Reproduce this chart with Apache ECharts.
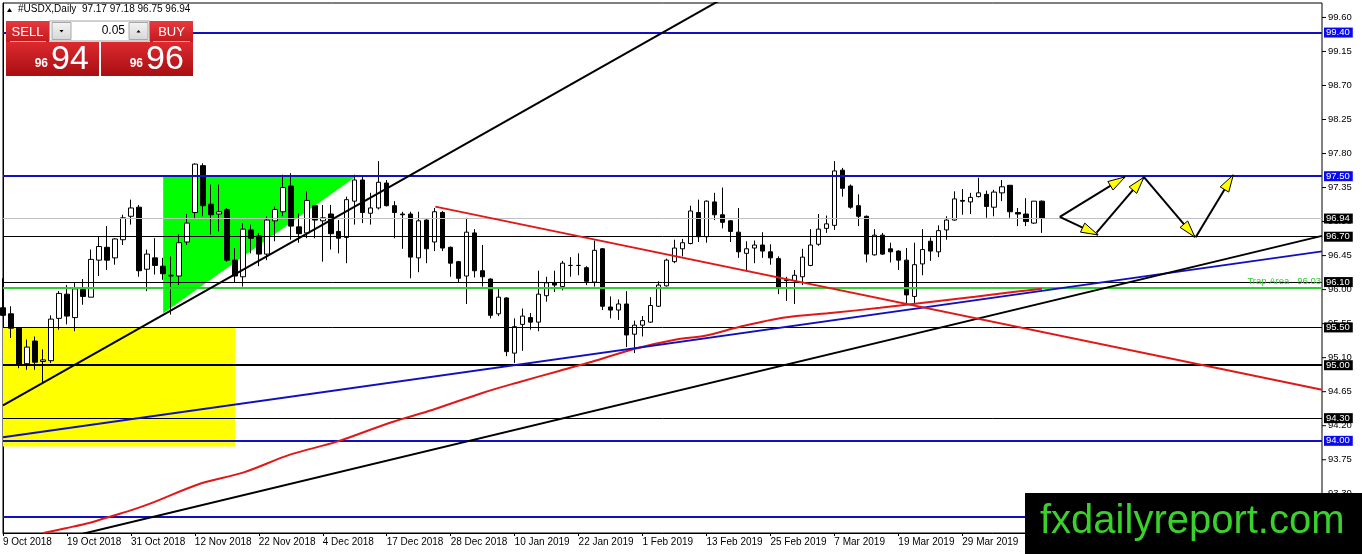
<!DOCTYPE html>
<html><head><meta charset="utf-8">
<script src="https://cdn.jsdelivr.net/npm/echarts@6/dist/echarts.min.js"></script>
<style>html,body{margin:0;padding:0;background:#fff}#c{width:1362px;height:554px}</style>
</head><body><div id="c"></div>
<script>
// ---------- data ----------
const tickLabels = ['9 Oct 2018','19 Oct 2018','31 Oct 2018','12 Nov 2018','22 Nov 2018','4 Dec 2018','17 Dec 2018','28 Dec 2018','10 Jan 2019','22 Jan 2019','1 Feb 2019','13 Feb 2019','25 Feb 2019','7 Mar 2019','19 Mar 2019','29 Mar 2019'];
const priceTicks = [93.30,93.75,94.20,94.65,95.10,95.55,96.00,96.45,96.90,97.35,97.80,98.25,98.70,99.15,99.60];
const opens = [95.76,95.68,95.49,95.02,95.32,95.05,95.06,95.62,95.94,95.63,96.00,95.90,96.39,96.56,96.42,96.66,96.97,97.09,96.27,96.42,
96.31,96.19,96.18,96.63,97.02,97.64,97.13,97.00,97.06,96.39,96.17,96.79,96.71,96.47,96.91,97.03,97.37,96.83,96.75,97.11,
96.91,97.00,96.77,96.69,97.17,97.45,97.01,97.08,97.41,97.11,97.00,97.00,96.42,96.92,96.63,97.02,96.56,96.37,96.18,96.75,
96.25,96.14,95.68,95.89,95.16,95.54,95.63,95.57,95.92,96.09,96.04,96.32,96.32,96.29,96.10,96.54,95.77,95.73,95.81,95.41,
95.53,95.57,95.78,96.05,96.37,96.54,96.61,97.02,96.70,97.16,96.99,96.91,96.76,96.48,96.55,96.59,96.50,96.41,96.13,96.12,
96.17,96.32,96.60,96.81,96.85,97.58,97.37,97.11,96.97,96.46,96.72,96.54,96.51,96.39,95.91,96.34,96.64,96.50,96.79,96.92,
97.18,97.16,97.23,97.26,97.09,97.28,97.38,97.02,97.00,96.88,97.17];
const highs = [96.15,95.78,95.50,95.34,95.38,95.21,95.66,95.98,96.06,96.09,96.14,96.53,96.70,96.84,96.68,96.99,97.19,97.12,96.53,96.68,
96.42,96.44,96.73,97.00,97.67,97.67,97.39,97.39,97.08,96.55,96.88,96.86,96.75,96.97,97.10,97.52,97.54,97.01,97.30,97.12,
97.12,97.12,96.92,97.23,97.52,97.50,97.28,97.70,97.45,97.17,97.03,97.03,97.03,96.93,97.08,97.04,96.57,96.38,96.95,96.80,
96.59,96.15,96.01,95.90,95.62,95.75,95.69,96.25,96.17,96.25,96.38,96.43,96.48,96.31,96.65,96.55,95.91,95.87,95.98,95.59,
95.65,95.90,96.11,96.41,96.66,96.67,97.11,97.19,97.18,97.28,97.35,96.92,97.08,96.64,96.65,96.76,96.60,96.44,96.17,96.26,
96.54,96.80,97.00,96.98,97.70,97.61,97.39,97.26,96.98,96.80,96.75,96.62,96.52,96.55,96.62,96.80,96.69,96.85,96.97,97.30,
97.33,97.28,97.48,97.31,97.32,97.45,97.38,97.08,97.21,97.17,97.18];
const lows = [95.65,95.36,94.96,94.94,94.94,94.77,95.03,95.47,95.54,95.45,95.80,95.90,96.18,96.26,96.33,96.59,96.86,96.17,95.98,96.20,
96.13,95.67,96.06,96.59,96.95,96.97,96.73,96.77,96.37,96.09,96.04,96.48,96.31,96.39,96.64,96.97,96.66,96.62,96.68,96.68,
96.37,96.53,96.48,96.35,96.86,96.88,96.86,97.06,97.10,96.68,96.54,96.15,96.23,96.35,96.51,96.51,96.17,96.10,95.81,96.16,
96.04,95.62,95.65,95.12,95.03,95.19,95.47,95.45,95.84,95.97,95.99,96.17,96.19,96.06,96.04,95.73,95.62,95.60,95.24,95.16,
95.38,95.56,95.77,96.04,96.35,96.44,96.60,96.63,96.62,96.92,96.81,96.63,96.42,96.26,96.35,96.42,96.33,95.94,95.85,95.81,
96.06,96.31,96.58,96.75,96.79,97.23,97.07,96.84,96.36,96.45,96.46,96.36,96.26,95.81,95.80,96.19,96.38,96.43,96.66,96.91,
96.99,97.00,97.22,96.95,96.97,97.17,96.95,96.84,96.84,96.87,96.75];
const closes = [95.66,95.49,95.01,95.24,95.04,95.07,95.61,95.95,95.65,96.01,95.91,96.40,96.57,96.39,96.67,96.95,97.08,96.25,96.47,96.32,
96.21,96.18,96.62,96.88,97.66,97.11,96.99,97.03,96.39,96.18,96.80,96.68,96.47,96.92,97.06,97.35,96.84,96.74,97.18,96.92,
96.95,96.74,96.68,97.19,97.45,97.02,97.08,97.42,97.11,97.02,96.99,96.43,96.91,96.54,97.03,96.55,96.35,96.15,96.76,96.25,
96.17,95.66,95.90,95.18,95.51,95.65,95.57,95.94,96.09,96.06,96.35,96.32,96.32,96.11,96.52,95.78,95.73,95.81,95.40,95.53,
95.59,95.79,96.06,96.39,96.55,96.62,97.04,96.70,97.17,96.99,96.89,96.77,96.50,96.54,96.59,96.51,96.42,96.03,96.12,96.19,
96.43,96.59,96.80,96.87,97.57,97.34,97.09,96.97,96.47,96.72,96.47,96.50,96.39,95.93,96.33,96.53,96.51,96.78,96.92,97.20,
97.17,97.22,97.28,97.10,97.29,97.36,97.03,97.00,96.90,97.17,96.94];
const slotCount = 166;                      // bars + empty space to the right
// moving average (read at sample points: bar index, price)
const maBars   = [5.04,7.97,10.88,13.76,16.26,18.39,24.64,30.02,35.90,41.78,48.41,53.79,60.05,64.30,69.68,73.68,79.06,84.06,87.82,92.19,97.57,103.83,109.71,114.09,121.59,126.6,129.97];
const maPrices = [92.781,92.847,92.917,93.010,93.090,93.169,93.433,93.579,93.817,93.989,94.240,94.412,94.637,94.769,94.928,95.046,95.218,95.337,95.390,95.508,95.627,95.693,95.759,95.812,95.905,95.971,96.011];
// trend lines [bar, price]
const steepTrend   = [[0,94.470],[89.5,99.817]];
const longTrend    = [[9,92.746],[165,96.711]];
const blueTrend    = [[0,94.047],[165,96.506]];
const redDownTrend = [[54.08,97.098],[165,94.675]];
// zones
const yellowBox     = [[0,95.50],[29.02,95.50],[29.02,93.926],[0,93.926]];
const greenTriangle = [[20.04,97.50],[20.04,95.689],[44.2,97.50]];
// projected arrows [bar0, price0, bar1, price1]
const arrowSegments = [[132.2,96.962,140.35,97.491],[132.2,96.962,136.98,96.724],[136.8,96.754,142.73,97.487],[142.73,97.487,149.1,96.694],[149.2,96.694,153.9,97.517]];
// horizontal levels
const blueLevels  = [99.40, 97.50, 94.00, 93.00];
const blackLevels = [96.70, 96.10, 95.50, 94.30];
const heavyLevels = [95.00];
const bidPrice    = 96.94;
const trapLevel   = 96.03;
const trapText    = 'Trap Area   96.03';
const headerText  = '#USDX,Daily  97.17 97.18 96.75 96.94';
const sellPrice = ['96','94'], buyPrice = ['96','96'], lotSize = '0.05';

// ---------- chart ----------
const FONT = 'Liberation Sans, Arial, sans-serif';
const BLUE = '#1010c0', BLUEBOX = '#0a0af0', RED = '#e01818';
const chart = echarts.init(document.getElementById('c'), null, {renderer:'canvas'});
const slots = Array.from({length: slotCount}, (_, i) => String(i));

function levelItem(v, color, width, boxColor) {
  return { yAxis: v, lineStyle: {color, width, type:'solid'},
    label: { show: true, position: 'end', distance: 2, formatter: v.toFixed(2), color: '#fff',
      backgroundColor: boxColor, fontFamily: FONT, fontSize: 9.5, lineHeight: 10, padding: [0,3,0,2] } };
}
const markData = [];
blueLevels.forEach(v => markData.push(levelItem(v, BLUE, 2, BLUEBOX)));
blackLevels.forEach(v => markData.push(levelItem(v, '#000', 1, '#000')));
heavyLevels.forEach(v => markData.push(levelItem(v, '#000', 2, '#000')));
markData.push(levelItem(bidPrice, '#c0c0c0', 1, '#000'));
markData.push({ yAxis: trapLevel, lineStyle: {color:'#32cd32', width:2, type:'solid'},
  label: { show: true, position: 'insideEndTop', distance: 1, formatter: trapText, color: '#32cd32', fontFamily: FONT, fontSize: 9.5 } });

function trendSeries(pts, color, smooth) {
  return { type:'line', xAxisIndex:1, data: pts, symbol:'none', silent:true, z:4, clip:true, smooth: smooth || false,
    lineStyle:{color, width:2}, animation:false };
}
const zones = [{pts: yellowBox, fill:'#ffff00'}, {pts: greenTriangle, fill:'#00ff00'}];

const option = {
  animation: false,
  grid: { left: 3, right: 40, top: 3, bottom: 21, show: true, borderColor: '#000', borderWidth: 1 },
  xAxis: [
    { type:'category', data: slots, boundaryGap:false,
      axisLine:{lineStyle:{color:'#000', width:1}},
      axisTick:{show:true, interval:7, length:3, lineStyle:{color:'#000'}},
      axisLabel:{interval:7, align:'left', margin:4, color:'#000', fontFamily:FONT, fontSize:10,
        formatter:(v, i) => (i % 8 === 0 && tickLabels[i/8]) ? tickLabels[i/8] : ''},
      splitLine:{show:false} },
    { type:'value', min:0, max:slotCount-1, show:false }
  ],
  yAxis: { type:'value', position:'right', min:92.781, max:99.791, scale:true,
    axisLine:{show:true, lineStyle:{color:'#000'}},
    axisTick:{show:false},
    axisLabel:{customValues: priceTicks, formatter: v => v.toFixed(2), color:'#000', fontFamily:FONT, fontSize:9.5, margin:6},
    splitLine:{show:false} },
  series: [
    { type:'custom', xAxisIndex:1, z:1, silent:true,
      data: zones.map(z => z.pts[0]), encode:{x:0, y:1},
      renderItem: (params, api) => {
        const z = zones[params.dataIndex];
        return { type:'polygon', shape:{points: z.pts.map(p => api.coord(p))}, style:{fill: z.fill} };
      } },
    // price-axis tick marks on the right edge
    { type:'custom', xAxisIndex:1, z:1, silent:true, clip:false,
      data: priceTicks.map(v => [slotCount-1, v]), encode:{x:0, y:1},
      renderItem: (params, api) => {
        const p = api.coord([api.value(0), api.value(1)]);
        return { type:'line', shape:{x1:p[0], y1:p[1], x2:p[0]+4, y2:p[1]}, style:{stroke:'#000', lineWidth:1} };
      } },
    { type:'candlestick', xAxisIndex:0, z:2, barWidth:5, silent:true,
      data: opens.map((o, i) => [o, closes[i], lows[i], highs[i]]),
      itemStyle:{color:'#fff', color0:'#000', borderColor:'#000', borderColor0:'#000', borderWidth:1},
      markLine:{ silent:true, symbol:['none','none'], z:3, animation:false, data: markData } },
    trendSeries(maBars.map((b, i) => [b, maPrices[i]]), RED, 0.3),
    trendSeries(blueTrend, BLUE),
    trendSeries(longTrend, '#000'),
    trendSeries(steepTrend, '#000'),
    trendSeries(redDownTrend, RED),
    { type:'custom', xAxisIndex:1, z:6, silent:true,
      data: arrowSegments, encode:{x:[0,2], y:[1,3]},
      renderItem: (params, api) => {
        const p0 = api.coord([api.value(0), api.value(1)]);
        const p1 = api.coord([api.value(2), api.value(3)]);
        const dx = p1[0]-p0[0], dy = p1[1]-p0[1], len = Math.hypot(dx, dy);
        const ux = dx/len, uy = dy/len, L = 17, W = 5;
        const bx = p1[0]-ux*L, by = p1[1]-uy*L;
        return { type:'group', children:[
          { type:'line', shape:{x1:p0[0], y1:p0[1], x2:p1[0], y2:p1[1]}, style:{stroke:'#000', lineWidth:2} },
          { type:'polygon', shape:{points:[[p1[0],p1[1]],[bx-uy*W, by+ux*W],[bx+uy*W, by-ux*W]]},
            style:{fill:'#ffff00', stroke:'#000', lineWidth:1} }
        ]};
      } }
  ],
  graphic: [
    // header
    { type:'polygon', z:100, shape:{points:[[7,12],[12,12],[9.5,8]]}, style:{fill:'#000'} },
    { type:'text', z:100, left:18, top:4, style:{text: headerText, fill:'#000', font:'10px '+FONT} },
    // trading panel
    { type:'rect', z:100, shape:{x:6, y:21, width:43, height:21}, style:{fill: new echarts.graphic.LinearGradient(0,0,0,1,[{offset:0,color:'#e8383d'},{offset:1,color:'#c01a1f'}])} },
    { type:'rect', z:100, shape:{x:150, y:21, width:43, height:21}, style:{fill: new echarts.graphic.LinearGradient(0,0,0,1,[{offset:0,color:'#e8383d'},{offset:1,color:'#c01a1f'}])} },
    { type:'rect', z:100, shape:{x:49.5, y:21, width:100, height:20}, style:{fill:'#fff', stroke:'#a0a0a0', lineWidth:1} },
    { type:'rect', z:101, shape:{x:52, y:22.5, width:19, height:17}, style:{fill: new echarts.graphic.LinearGradient(0,0,0,1,[{offset:0,color:'#f4f4f4'},{offset:1,color:'#d6d6d6'}]), stroke:'#a8a8a8'} },
    { type:'rect', z:101, shape:{x:129, y:22.5, width:19, height:17}, style:{fill: new echarts.graphic.LinearGradient(0,0,0,1,[{offset:0,color:'#f4f4f4'},{offset:1,color:'#d6d6d6'}]), stroke:'#a8a8a8'} },
    { type:'polygon', z:102, shape:{points:[[59.5,30],[63.5,30],[61.5,32.5]]}, style:{fill:'#000'} },
    { type:'polygon', z:102, shape:{points:[[136.5,32.5],[140.5,32.5],[138.5,30]]}, style:{fill:'#000'} },
    { type:'text', z:102, x:125, y:31, style:{text: lotSize, fill:'#000', font:'12px '+FONT, align:'right', verticalAlign:'middle'} },
    { type:'text', z:102, x:27.5, y:32, style:{text:'SELL', fill:'#fff', font:'13px '+FONT, align:'center', verticalAlign:'middle'} },
    { type:'text', z:102, x:171.5, y:32, style:{text:'BUY', fill:'#fff', font:'13px '+FONT, align:'center', verticalAlign:'middle'} },
    { type:'line', z:102, shape:{x1:10, y1:41.5, x2:46, y2:41.5}, style:{stroke:'rgba(255,200,200,0.8)', lineWidth:1} },
    { type:'line', z:102, shape:{x1:153, y1:41.5, x2:190, y2:41.5}, style:{stroke:'rgba(255,200,200,0.8)', lineWidth:1} },
    { type:'rect', z:100, shape:{x:6, y:42, width:93, height:34}, style:{fill: new echarts.graphic.LinearGradient(0,0,0,1,[{offset:0,color:'#dc2a2f'},{offset:1,color:'#a80e12'}])} },
    { type:'rect', z:100, shape:{x:101, y:42, width:92, height:34}, style:{fill: new echarts.graphic.LinearGradient(0,0,0,1,[{offset:0,color:'#dc2a2f'},{offset:1,color:'#a80e12'}])} },
    { type:'text', z:102, x:48, y:64, style:{text: sellPrice[0], fill:'#fff', font:'bold 12px '+FONT, align:'right', verticalAlign:'middle'} },
    { type:'text', z:102, x:51, y:60, style:{text: sellPrice[1], fill:'#fff', font:'34px '+FONT, align:'left', verticalAlign:'middle'} },
    { type:'text', z:102, x:143, y:64, style:{text: buyPrice[0], fill:'#fff', font:'bold 12px '+FONT, align:'right', verticalAlign:'middle'} },
    { type:'text', z:102, x:146, y:60, style:{text: buyPrice[1], fill:'#fff', font:'34px '+FONT, align:'left', verticalAlign:'middle'} },
    // watermark
    { type:'rect', z:110, shape:{x:1025, y:493, width:337, height:61}, style:{fill:'#000'} },
    { type:'text', z:111, x:1040, y:522, style:{text:'fxdailyreport.com', fill:'#3ad12c', font:'40px '+FONT, align:'left', verticalAlign:'middle'} }
  ]
};
chart.setOption(option);
</script></body></html>
